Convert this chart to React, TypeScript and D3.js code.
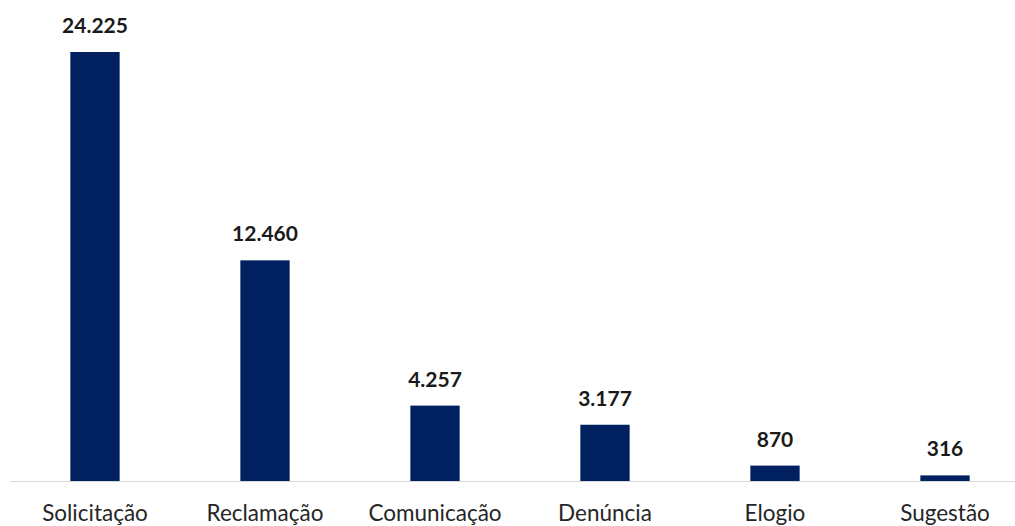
import React from "react";
import * as d3 from "d3";

const categories = ["Solicitação", "Reclamação", "Comunicação", "Denúncia", "Elogio", "Sugestão"];
const values = [24225, 12460, 4257, 3177, 870, 316];
const valueLabels = ["24.225", "12.460", "4.257", "3.177", "870", "316"];

export default function App() {
  const width = 1015;
  const height = 526;
  const baseline = 481;
  const x = d3.scaleBand<string>().domain(categories).range([10, 1030]).paddingInner(0.71).paddingOuter(0.355);
  const y = d3.scaleLinear().domain([0, 24225]).range([baseline, 52]);
  const font = "Lato, 'Open Sans', sans-serif";
  return (
    <svg width={width} height={height} style={{ position: "absolute", left: 0, top: 0, background: "#fff" }}>
      <line x1={10} x2={1015} y1={baseline + 0.5} y2={baseline + 0.5} stroke="#d9d9d9" strokeWidth={1} />
      {categories.map((c, i) => {
        const bx = x(c)!;
        const bw = x.bandwidth();
        const cx = bx + bw / 2;
        return (
          <g key={c}>
            <rect x={bx} y={y(values[i])} width={bw} height={baseline - y(values[i])} fill="#002060" />
            <text x={cx} y={y(values[i]) - 19} textAnchor="middle" fontFamily={font} fontWeight={700} fontSize={21} fill="#1a1a1a">
              {valueLabels[i]}
            </text>
            <text x={cx} y={521} textAnchor="middle" fontFamily={font} fontSize={22.5} fill="#262626">
              {c}
            </text>
          </g>
        );
      })}
    </svg>
  );
}
